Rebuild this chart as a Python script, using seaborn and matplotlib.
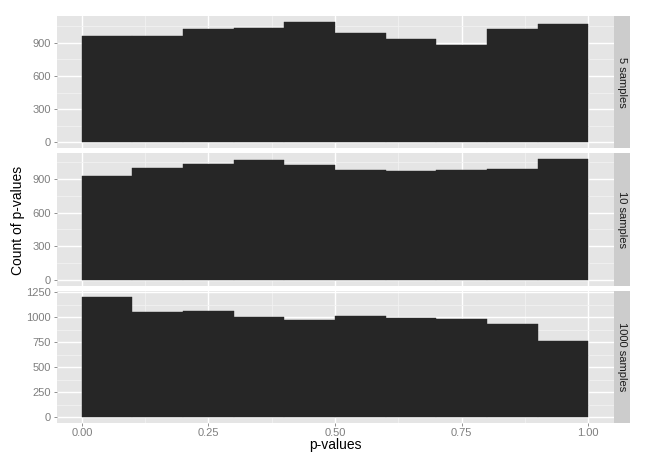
import numpy as np
import pandas as pd
import seaborn as sns
import matplotlib
matplotlib.use("Agg")
import matplotlib.pyplot as plt
from matplotlib.patches import Rectangle
from matplotlib.ticker import FixedLocator

# ---- data ----
bin_edges = [0.0, 0.1, 0.2, 0.3, 0.4, 0.5, 0.6, 0.7, 0.8, 0.9, 1.0]
facet_labels = ["5 samples", "10 samples", "1000 samples"]
counts_5 = [960, 962, 1029, 1038, 1089, 990, 936, 885, 1023, 1071]
counts_10 = [927, 1001, 1031, 1069, 1022, 980, 974, 980, 992, 1075]
counts_1000 = [1207, 1050, 1060, 1004, 975, 1014, 995, 985, 935, 765]
x_ticks = [0.0, 0.25, 0.5, 0.75, 1.0]
x_tick_labels = ["0.00", "0.25", "0.50", "0.75", "1.00"]
y_ticks_small = [0, 300, 600, 900]
y_ticks_large = [0, 250, 500, 750, 1000, 1250]

centers = [(a + b) / 2 for a, b in zip(bin_edges[:-1], bin_edges[1:])]
rows = []
for lab, cnts in zip(facet_labels, [counts_5, counts_10, counts_1000]):
    for c, n in zip(centers, cnts):
        rows.append({"samples": lab, "p": c, "count": n})
df = pd.DataFrame(rows)

sns.set_theme(style="darkgrid", rc={
    "axes.facecolor": "#E5E5E5",
    "grid.color": "white",
    "axes.edgecolor": "#E5E5E5",
    "figure.facecolor": "white",
})
plt.rcParams["font.family"] = ["Liberation Sans", "DejaVu Sans"]

g = sns.FacetGrid(df, row="samples", row_order=facet_labels, sharey=False,
                  sharex=True, height=1.5, aspect=4)
g.map_dataframe(sns.histplot, x="p", weights="count", bins=bin_edges,
                color="#262626", alpha=1.0, edgecolor="#262626", linewidth=0.3)
g.set_titles("")
g.figure.set_size_inches(6.46, 4.63)
g.figure.subplots_adjust(left=56.5 / 646, right=613.6 / 646,
                         top=1 - 16 / 463, bottom=1 - 423 / 463,
                         hspace=0.038)

ymax = [max(counts_5), max(counts_10), max(counts_1000)]
yticks_list = [y_ticks_small, y_ticks_small, y_ticks_large]
axes = g.axes.flatten()
for i, ax in enumerate(axes):
    m = ymax[i]
    ax.set_ylim(-0.05 * m, 1.05 * m)
    ax.set_xlim(-0.05, 1.05)
    yt = yticks_list[i]
    ax.yaxis.set_major_locator(FixedLocator(yt))
    step = yt[1] - yt[0]
    ax.yaxis.set_minor_locator(FixedLocator([v + step / 2 for v in yt]))
    ax.xaxis.set_major_locator(FixedLocator(x_ticks))
    ax.xaxis.set_minor_locator(FixedLocator([0.125, 0.375, 0.625, 0.875]))
    ax.grid(which="major", color="white", linewidth=1.0)
    ax.grid(which="minor", color="#F2F2F2", linewidth=0.6)
    ax.set_axisbelow(True)
    ax.set_xlabel("")
    ax.set_ylabel("")
    for s in ax.spines.values():
        s.set_visible(False)
    ax.tick_params(axis="y", which="major", left=True, length=2.4, width=0.6,
                   color="#7F7F7F", labelcolor="#7F7F7F", labelsize=8, pad=1.5)
    ax.tick_params(axis="x", which="major", bottom=(i == 2), length=2.4,
                   width=0.6, color="#7F7F7F", labelcolor="#7F7F7F",
                   labelsize=8, pad=1.5, labelbottom=(i == 2))
    ax.tick_params(which="minor", length=0)
    if i == 2:
        ax.set_xticklabels(x_tick_labels)
    # facet strip on the right
    w = 15.5 / 557.0
    ax.add_patch(Rectangle((1.001, 0), w, 1, transform=ax.transAxes,
                           facecolor="#CCCCCC", edgecolor="none",
                           clip_on=False))
    ax.text(1.001 + w / 2, 0.5, facet_labels[i], transform=ax.transAxes,
            rotation=-90, ha="center", va="center", fontsize=8,
            color="#1A1A1A")

fig = g.figure
fig.text(18 / 646, 1 - 220 / 463, "Count of p-values", rotation=90,
         ha="center", va="center", fontsize=10, color="black")
fig.text(335 / 646, 1 - 438.5 / 463, "p-values", ha="center", va="top",
         fontsize=10, color="black")

fig.savefig("out.png", dpi=100)
